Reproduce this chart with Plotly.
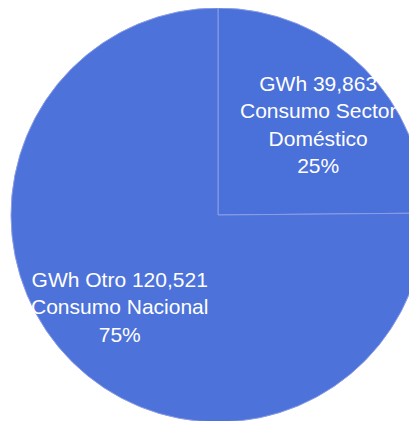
import plotly.graph_objects as go

# Data
labels = ["Consumo Sector Doméstico", "Otro Consumo Nacional"]
values = [39863, 120521]
label_lines = [["GWh 39,863", "Consumo Sector", "Doméstico"],
               ["GWh Otro 120,521", "Consumo Nacional"]]
percents = ["25%", "75%"]

W, H = 417, 421

fig = go.Figure()
fig.add_trace(go.Pie(
    labels=labels,
    values=values,
    sort=False,
    direction="clockwise",
    rotation=0,
    textinfo="none",
    hoverinfo="label+value+percent",
    marker=dict(colors=["#4a70d9", "#4d72da"],
                line=dict(color="#8c9de6", width=1)),
    domain=dict(x=[3 / W, 1], y=[7 / H, 1]),
    showlegend=False,
))

# label positions (pixels), layout only
pos = [(310, 116.5), (111, 298.5)]
for lines, pct, (px, py) in zip(label_lines, percents, pos):
    fig.add_annotation(
        text="<br>".join(lines + [pct]),
        x=px / W, y=1 - py / H, xref="paper", yref="paper",
        xanchor="center", yanchor="middle", showarrow=False,
        font=dict(family="Liberation Sans, Arial, sans-serif", size=21, color="white"),
        align="center",
    )

fig.update_layout(
    width=W, height=H,
    margin=dict(l=0, r=0, t=0, b=0),
    paper_bgcolor="white", plot_bgcolor="white",
)

fig.write_html("out.html")
